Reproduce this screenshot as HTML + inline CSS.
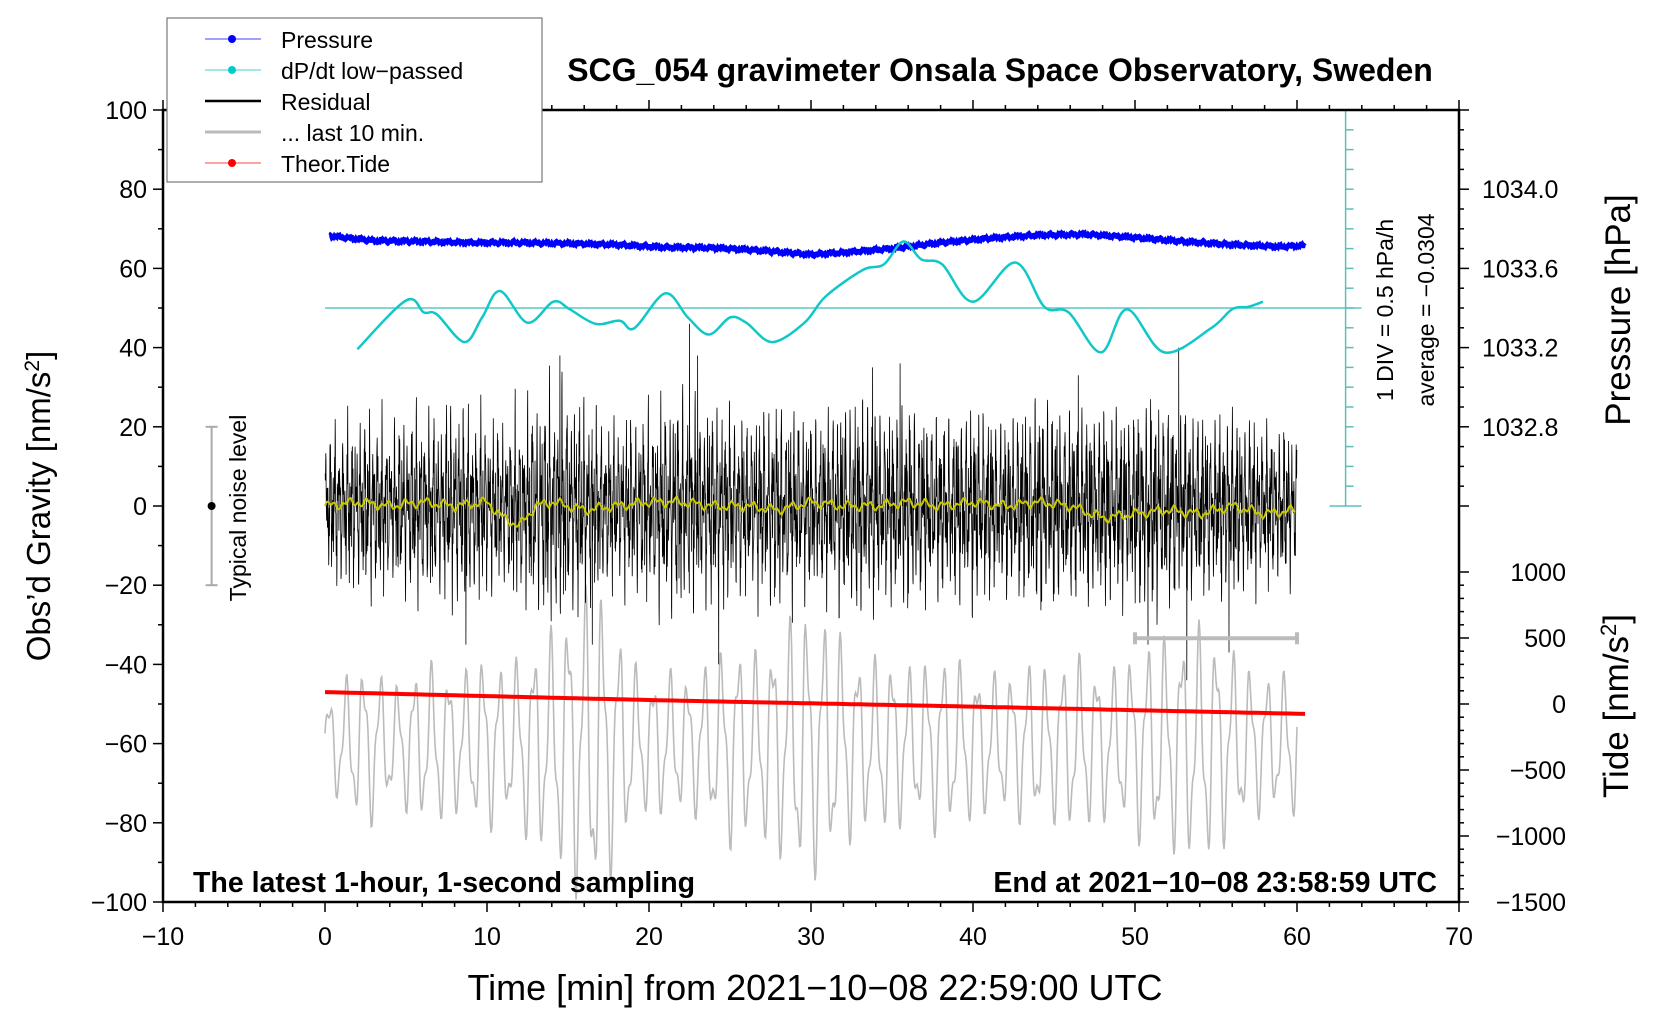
<!DOCTYPE html>
<html><head><meta charset="utf-8"><style>
body{margin:0;background:#fff}
svg{display:block;font-family:"Liberation Sans",sans-serif}
</style></head><body>
<svg id="chart" width="1660" height="1020" viewBox="0 0 1660 1020" xmlns="http://www.w3.org/2000/svg">
<rect x="0" y="0" width="1660" height="1020" fill="#fff"/>
<g id="marks"></g>
<g id="axes"></g>
<text x="1000" y="81" font-size="32" font-weight="bold" text-anchor="middle">SCG_054 gravimeter Onsala Space Observatory, Sweden</text>
<text x="815" y="1000" font-size="36" text-anchor="middle">Time [min] from 2021−10−08 22:59:00 UTC</text>
<text transform="translate(50,506) rotate(-90)" font-size="33" text-anchor="middle">Obs’d Gravity [nm/s<tspan baseline-shift="super" font-size="21">2</tspan>]</text>
<text transform="translate(1630,310) rotate(-90)" font-size="35" text-anchor="middle">Pressure [hPa]</text>
<text transform="translate(1628,706) rotate(-90)" font-size="35" text-anchor="middle">Tide [nm/s<tspan baseline-shift="super" font-size="22">2</tspan>]</text>
<text x="193" y="892" font-size="28.5" font-weight="bold">The latest 1-hour, 1-second sampling</text>
<text x="1437" y="892" font-size="28.5" font-weight="bold" text-anchor="end">End at 2021−10−08 23:58:59 UTC</text>
<text transform="translate(1393,310) rotate(-90)" font-size="23" text-anchor="middle">1 DIV = 0.5 hPa/h</text>
<text transform="translate(1434,310) rotate(-90)" font-size="23" text-anchor="middle">average = −0.0304</text>
<text transform="translate(246,508) rotate(-90)" font-size="23" text-anchor="middle">Typical noise level</text>
<g>
<rect x="167" y="18" width="375" height="164" fill="#fff" stroke="#777" stroke-width="1.2"/>
<line x1="205" y1="39" x2="261" y2="39" stroke="#4040ff" stroke-width="1"/><circle cx="232" cy="39" r="4" fill="#00f"/>
<text x="281" y="48" font-size="23">Pressure</text>
<line x1="205" y1="70" x2="261" y2="70" stroke="#40d0d0" stroke-width="1"/><circle cx="232" cy="70" r="4" fill="#0cc"/>
<text x="281" y="79" font-size="23">dP/dt low−passed</text>
<line x1="205" y1="101" x2="261" y2="101" stroke="#000" stroke-width="2.5"/>
<text x="281" y="110" font-size="23">Residual</text>
<line x1="205" y1="132" x2="261" y2="132" stroke="#bbb" stroke-width="3"/>
<text x="281" y="141" font-size="23">... last 10 min.</text>
<line x1="205" y1="163" x2="261" y2="163" stroke="#f44" stroke-width="1"/><circle cx="232" cy="163" r="4" fill="#f00"/>
<text x="281" y="172" font-size="23">Theor.Tide</text>
</g>
</svg>
<script>
// ---- data ----
const pressureTimes = [0.3,3,6,9,12,15,18,21,24,27,30,32,35,38,41,44,47,50,53,56,59,60.5];
const pressureHpa = [1033.764,1033.74,1033.736,1033.73,1033.73,1033.726,1033.72,1033.706,1033.704,1033.69,1033.67,1033.68,1033.70,1033.73,1033.752,1033.768,1033.772,1033.756,1033.736,1033.72,1033.71,1033.716];
const dpdtTimes = [2.0,5.0,6.1,6.9,8.6,9.7,10.8,12.5,14.1,15.1,16.7,18.2,19.1,21.0,22.4,23.7,25.0,26.0,27.6,29.6,30.9,33.2,34.5,35.7,36.8,38.1,40.0,42.6,44.4,45.9,47.9,49.5,51.8,54.7,56.0,57.0,57.9];
const dpdtValues = [39.6,51.9,48.9,48.4,41.4,47.6,54.3,46.3,51.6,49.7,46.0,46.8,44.9,53.7,47.6,43.3,47.6,46.3,41.4,46.3,52.9,59.6,61.0,66.8,62.3,61.0,51.6,61.5,50.3,48.9,38.8,49.7,38.8,44.9,49.7,50.3,51.6];
const residualEnvelope = [20,22,24,25,22,24,26,24,28,26,24,22,26,28,32,30,28,24,22,24,26,28,30,26,28,26,24,26,28,26,24,26,28,30,28,26,28,26,24,26,28,26,24,26,30,28,26,26,28,26,28,30,28,26,26,24,26,24,22,22,20];
const spikeTimes = [14.5,16.5,22.5,23.0,24.3,33.8,35.5,46.5,52.7,53.2,8.7,55.8,50.8];
const spikeValues = [38,-35,46,38,-40,35,36,33,40,-44,-35,-37,-35];
const yellowTimes = [0,2,4,6,8,10,11,12,13,14,16,18,20,22,24,26,28,30,32,34,36,38,40,42,44,46,48,50,52,54,56,58,60];
const yellowValues = [0,1,0,1,0,1,-3,-5,0,1,-1,0,1,1,0,0,-1,1,0,0,1,0,1,0,1,0,-3,-2,-1,-2,0,-2,-1];
const grayEnvelope = [12,18,22,15,20,22,18,24,20,26,30,40,44,30,18,20,18,22,28,24,30,36,34,28,22,24,20,24,22,20,18,22,20,24,22,20,26,28,30,32,26,20,18,20];
const tideTimes = [0,20,40,60.5];
const tideValues = [90,30,-20,-75];
const xTicks = [-10,0,10,20,30,40,50,60,70];
const yTicks = [100,80,60,40,20,0,-20,-40,-60,-80,-100];
const pressureTicks = [1034.0,1033.6,1033.2,1032.8];
const tideTicks = [1000,500,0,-500,-1000,-1500];

// ---- scales ----
const X = v => 163 + (v + 10) * 16.2;
const Y = g => 110 + (100 - g) * 3.96;
const P = p => 80 - (1034 - p) * 50;
const T = t => -50 + t / 30;
const NS = 'http://www.w3.org/2000/svg';
const marks = document.getElementById('marks');
const axes = document.getElementById('axes');
function mk(tag, parent, attrs) { const e = document.createElementNS(NS, tag); for (const k in attrs) e.setAttribute(k, attrs[k]); parent.appendChild(e); return e; }
function interp(ts, vs, t) { if (t <= ts[0]) return vs[0]; for (let i = 1; i < ts.length; i++) if (t <= ts[i]) { const f = (t - ts[i-1]) / (ts[i] - ts[i-1]); return vs[i-1] + f * (vs[i] - vs[i-1]); } return vs[vs.length-1]; }
function envAt(env, t, span) { const u = t / span * (env.length - 1); const i = Math.min(env.length - 2, Math.floor(u)); const f = u - i; return env[i] * (1 - f) + env[i+1] * f; }

// gray last 10 min
let gp = [];
for (let t = 0; t <= 60; t += 0.05) {
  const a = envAt(grayEnvelope, t, 60);
  const c = 0.75 * Math.sin(2 * Math.PI * t * 0.95) + 0.25 * Math.sin(2 * Math.PI * t * 2.3 + 1);
  gp.push(X(t).toFixed(1) + ',' + Y(-60 + a * c).toFixed(1));
}
const grayLine = mk('polyline', marks, {points: gp.join(' '), fill: 'none', stroke: '#bbb', 'stroke-width': 1.6});



// residual
let rp = [];
for (let t = 0; t <= 60; t += 0.01) {
  const a = envAt(residualEnvelope, t, 60);
  let c = 0.35 * Math.sin(t * 23.7) + 0.3 * Math.sin(t * 41.3 + 0.7) + 0.2 * Math.sin(t * 97.9 + 2.1) + 0.25 * Math.sin(t * 151.3 + 0.4) * Math.sin(t * 3.1);
  let v = a * c * 1.1;
  for (let k = 0; k < spikeTimes.length; k++) if (Math.abs(t - spikeTimes[k]) < 0.006) v = spikeValues[k];
  rp.push(X(t).toFixed(1) + ',' + Y(v).toFixed(1));
}
const resLine = mk('polyline', marks, {points: rp.join(' '), fill: 'none', stroke: '#000', 'stroke-width': 0.8});



// yellow smoothed residual
let yp = [];
for (let t = 0; t <= 60; t += 0.1) yp.push(X(t).toFixed(1) + ',' + Y(interp(yellowTimes, yellowValues, t) + 0.8 * Math.sin(t * 5.3) + 0.6 * Math.sin(t * 13.1)).toFixed(1));
const yl = mk('polyline', marks, {points: yp.join(' '), fill: 'none', stroke: '#c8c800', 'stroke-width': 2});



// tide
let tp = [];
for (let t = 0; t <= 60.5; t += 0.5) tp.push(X(t).toFixed(1) + ',' + Y(T(interp(tideTimes, tideValues, t))).toFixed(1));
const tl = mk('polyline', marks, {points: tp.join(' '), fill: 'none', stroke: '#f00', 'stroke-width': 4});



// pressure
let pp = [];
for (let t = 0.3; t <= 60.5; t += 0.02) pp.push(X(t).toFixed(1) + ',' + Y(P(interp(pressureTimes, pressureHpa, t)) + 0.3 * Math.sin(t * 9.3) + 0.25 * Math.sin(t * 23.9) + 0.2 * Math.sin(t * 57.1)).toFixed(1));
const pl = mk('polyline', marks, {points: pp.join(' '), fill: 'none', stroke: '#00f', 'stroke-width': 4});



// dP/dt
const zl = mk('line', marks, {x1: X(0), y1: Y(50), x2: X(63) + 16, y2: Y(50), stroke: '#5cc8c0', 'stroke-width': 1.5});


let dd = 'M' + X(dpdtTimes[0]).toFixed(1) + ',' + Y(dpdtValues[0]).toFixed(1);
for (let i = 0; i < dpdtTimes.length - 1; i++) {
  const i0 = Math.max(0, i - 1), i3 = Math.min(dpdtTimes.length - 1, i + 2);
  const x0 = X(dpdtTimes[i0]), y0 = Y(dpdtValues[i0]), x1 = X(dpdtTimes[i]), y1 = Y(dpdtValues[i]);
  const x2 = X(dpdtTimes[i+1]), y2 = Y(dpdtValues[i+1]), x3 = X(dpdtTimes[i3]), y3 = Y(dpdtValues[i3]);
  dd += ' C' + (x1 + (x2 - x0) / 6).toFixed(1) + ',' + (y1 + (y2 - y0) / 6).toFixed(1) + ' ' + (x2 - (x3 - x1) / 6).toFixed(1) + ',' + (y2 - (y3 - y1) / 6).toFixed(1) + ' ' + x2.toFixed(1) + ',' + y2.toFixed(1);
}
const dl = mk('path', marks, {d: dd, fill: 'none', stroke: '#10c8c8', 'stroke-width': 2.5});



// dP/dt scale bracket
const br = mk('g', marks, {stroke: '#5cc0b8', 'stroke-width': 1.5});


mk('line', br, {x1: X(63), y1: Y(100), x2: X(63), y2: Y(0)});
mk('line', br, {x1: X(63) - 16, y1: Y(100), x2: X(63) + 16, y2: Y(100)});
mk('line', br, {x1: X(63) - 16, y1: Y(0), x2: X(63) + 16, y2: Y(0)});
for (let g = 5; g < 100; g += 5) mk('line', br, {x1: X(63), y1: Y(g), x2: X(63) + 8, y2: Y(g)});

// gray 10-min bar
const gb = mk('g', marks, {stroke: '#bbb', 'stroke-width': 4});


mk('line', gb, {x1: X(50), y1: Y(-33.4), x2: X(60), y2: Y(-33.4)});
mk('line', gb, {x1: X(50), y1: Y(-33.4) - 6, x2: X(50), y2: Y(-33.4) + 6});
mk('line', gb, {x1: X(60), y1: Y(-33.4) - 6, x2: X(60), y2: Y(-33.4) + 6});

// noise-level bar
const nb = mk('g', marks, {stroke: '#aaa', 'stroke-width': 2});


mk('line', nb, {x1: X(-7), y1: Y(20), x2: X(-7), y2: Y(-20)});
mk('line', nb, {x1: X(-7) - 6, y1: Y(20), x2: X(-7) + 6, y2: Y(20)});
mk('line', nb, {x1: X(-7) - 6, y1: Y(-20), x2: X(-7) + 6, y2: Y(-20)});
mk('circle', marks, {cx: X(-7), cy: Y(0), r: 4, fill: '#000'});

// axes frame
const fr = mk('rect', axes, {x: X(-10), y: Y(100), width: X(70) - X(-10), height: Y(-100) - Y(100), fill: 'none', stroke: '#000', 'stroke-width': 2.5});


const tk = mk('g', axes, {stroke: '#000', 'stroke-width': 1.5});
for (let v = -10; v <= 70; v += 2) { const L = v % 10 === 0 ? 10 : 5; mk('line', tk, {x1: X(v), y1: Y(-100), x2: X(v), y2: Y(-100) + L}); mk('line', tk, {x1: X(v), y1: Y(100), x2: X(v), y2: Y(100) - L}); }
for (let g = -100; g <= 100; g += 10) { const L = g % 20 === 0 ? 10 : 5; mk('line', tk, {x1: X(-10), y1: Y(g), x2: X(-10) - L, y2: Y(g)}); }
for (let p = 1032.4; p <= 1034.41; p += 0.1) { const g = P(p); if (g < 0 || g > 100) continue; const major = Math.abs(Math.round(p * 10) % 4) === 0; mk('line', tk, {x1: X(70), y1: Y(g), x2: X(70) + (major ? 10 : 5), y2: Y(g)}); }
for (let t = -1500; t <= 1000; t += 100) { const major = t % 500 === 0; mk('line', tk, {x1: X(70), y1: Y(T(t)), x2: X(70) + (major ? 10 : 5), y2: Y(T(t))}); }
xTicks.forEach(v => { const e = mk('text', axes, {x: X(v), y: Y(-100) + 43, 'font-size': 25, 'text-anchor': 'middle'}); e.textContent = v < 0 ? '−' + (-v) : v;
  
   });
yTicks.forEach(v => { const e = mk('text', axes, {x: X(-10) - 16, y: Y(v) + 9, 'font-size': 25, 'text-anchor': 'end'}); e.textContent = v < 0 ? '−' + (-v) : v;
  
   });
pressureTicks.forEach(v => { const e = mk('text', axes, {x: X(70) + 23, y: Y(P(v)) + 9, 'font-size': 25}); e.textContent = v.toFixed(1);
  
   });
tideTicks.forEach(v => { const e = mk('text', axes, {x: X(70) + 107, y: Y(T(v)) + 9, 'font-size': 25, 'text-anchor': 'end'}); e.textContent = v < 0 ? '−' + (-v) : v;
  
   });
</script>
</body></html>
